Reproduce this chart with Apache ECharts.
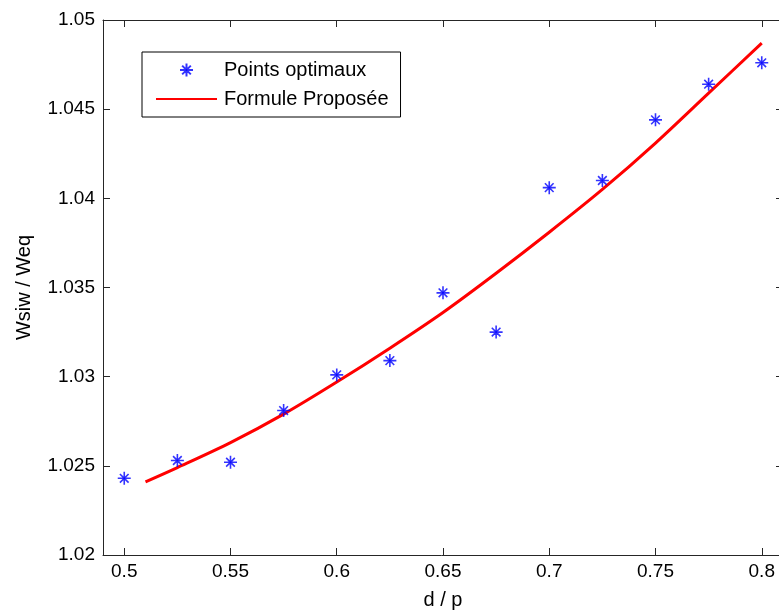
<!DOCTYPE html>
<html>
<head>
<meta charset="utf-8">
<script src="https://cdn.jsdelivr.net/npm/echarts@6/dist/echarts.min.js"></script>
<style>
  html, body { margin: 0; padding: 0; background: #fff; }
  #chart { width: 779px; height: 610px; }
</style>
</head>
<body>
<div id="chart"></div>
<script>
// Optimal points (d/p, Wsiw/Weq)
const pointsX = [0.5, 0.525, 0.55, 0.575, 0.6, 0.625, 0.65, 0.675, 0.7, 0.725, 0.75, 0.775, 0.8];
const pointsY = [1.0243, 1.0253, 1.0252, 1.0281, 1.0301, 1.0309, 1.0347, 1.0325, 1.0406, 1.0410, 1.0444, 1.0464, 1.0476];

// Proposed formula curve
const curveX = [0.51, 0.525, 0.55, 0.575, 0.6, 0.625, 0.65, 0.675, 0.7, 0.725, 0.75, 0.775, 0.8];
const curveY = [1.0241, 1.0249, 1.0263, 1.0279, 1.0297, 1.0316, 1.0336, 1.0358, 1.0381, 1.0405, 1.0431, 1.0459, 1.0487];

// Tick labels
const xTicks = [0.5, 0.55, 0.6, 0.65, 0.7, 0.75, 0.8];
const yTicks = [1.02, 1.025, 1.03, 1.035, 1.04, 1.045, 1.05];

const names = ['Points optimaux', 'Formule Proposée'];

const FONT = '"Liberation Sans", Arial, sans-serif';
const AXIS_COLOR = '#262626';
const starPath = 'path://M0,-6L0,6M-6,0L6,0M-4,-4L4,4M-4,4L4,-4M-1,0A1,1 0 1 0 1,0A1,1 0 1 0 -1,0Z';

const chart = echarts.init(document.getElementById('chart'), null, { renderer: 'canvas' });

const fmt = v => String(Number(v.toFixed(4)));

const baseX = {
  type: 'value', min: 0.49, max: 0.81,
  splitLine: { show: false },
  axisLine: { show: true, onZero: false, lineStyle: { color: AXIS_COLOR, width: 1 } },
  axisTick: { show: true, inside: true, length: 7, customValues: xTicks, lineStyle: { color: AXIS_COLOR } }
};
const baseY = {
  type: 'value', min: yTicks[0], max: yTicks[yTicks.length - 1], interval: 0.005,
  splitLine: { show: false },
  axisLine: { show: true, onZero: false, lineStyle: { color: AXIS_COLOR, width: 1 } },
  axisTick: { show: true, inside: true, length: 7, lineStyle: { color: AXIS_COLOR } }
};

chart.setOption({
  backgroundColor: '#fff',
  animation: false,
  grid: { left: 103, top: 20, right: -4, bottom: 55, containLabel: false, outerBoundsMode: 'none' },
  legend: {
    orient: 'vertical',
    left: 142, top: 52,
    padding: [8, 12, 8, 13],
    itemGap: 9,
    itemWidth: 61,
    itemHeight: 13,
    backgroundColor: '#fff',
    borderColor: '#000',
    borderWidth: 1,
    borderRadius: 0,
    data: [
      { name: names[0] },
      { name: names[1], itemStyle: { opacity: 0 } }
    ],
    textStyle: { fontFamily: FONT, fontSize: 20, color: '#000', lineHeight: 20, padding: [0, 0, 0, 2] }
  },
  xAxis: [
    Object.assign({}, baseX, {
      position: 'bottom',
      name: 'd / p', nameLocation: 'middle', nameGap: 35,
      nameTextStyle: { fontFamily: FONT, fontSize: 20, color: '#000' },
      axisLabel: { show: true, margin: 7, customValues: xTicks, formatter: fmt,
        fontFamily: FONT, fontSize: 19, color: '#000' }
    }),
    Object.assign({}, baseX, { position: 'top', axisLabel: { show: false } })
  ],
  yAxis: [
    Object.assign({}, baseY, {
      position: 'left',
      name: 'Wsiw / Weq', nameLocation: 'middle', nameGap: 69,
      nameTextStyle: { fontFamily: FONT, fontSize: 20, color: '#000' },
      axisLabel: { show: true, margin: 8, formatter: fmt,
        fontFamily: FONT, fontSize: 19, color: '#000' }
    }),
    Object.assign({}, baseY, { position: 'right', axisLabel: { show: false } })
  ],
  series: [
    {
      name: names[0],
      type: 'scatter',
      xAxisIndex: 0, yAxisIndex: 0,
      z: 3,
      symbol: starPath,
      symbolSize: 13,
      itemStyle: { color: '#0000ff', borderColor: '#0000ff', borderWidth: 1.6 },
      data: pointsX.map((x, i) => [x, pointsY[i]])
    },
    {
      name: names[1],
      type: 'line',
      xAxisIndex: 0, yAxisIndex: 0,
      z: 2,
      symbol: 'none',
      smooth: 0.3,
      lineStyle: { color: '#ff0000', width: 3 },
      itemStyle: { color: '#ff0000' },
      data: curveX.map((x, i) => [x, curveY[i]])
    }
  ]
});
</script>
</body>
</html>
